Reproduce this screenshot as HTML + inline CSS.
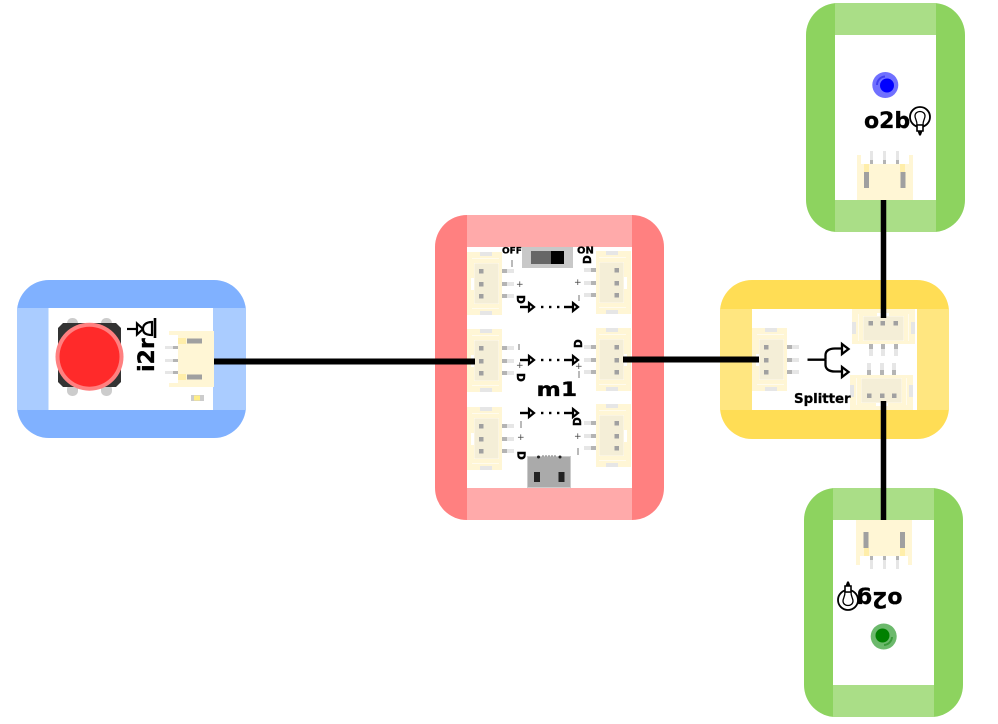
<!DOCTYPE html>
<html><head><meta charset="utf-8"><style>
html,body{margin:0;padding:0;background:#fff;width:998px;height:724px;overflow:hidden}
svg{display:block}
text{font-family:"DejaVu Sans","Liberation Sans",sans-serif;font-weight:bold;fill:#000;stroke:#000;stroke-width:.3px}
.t{font-weight:normal;font-size:9px;fill:#444;stroke:none}
.d{stroke-width:.5px;font-size:10.500px}
</style></head><body>
<svg width="998" height="724" viewBox="0 0 998 724" xmlns="http://www.w3.org/2000/svg">
<defs>
<g id="c">
<rect x="0" y="0" width="35" height="63" fill="#fff6d5"/>
<rect x="5" y="6" width="27" height="1" fill="#fffbee"/>
<rect x="5" y="56" width="27" height="1" fill="#fffbee"/>
<rect x="13" y="0" width="12" height="4" fill="#e6e6e6"/>
<rect x="13" y="59" width="12" height="4" fill="#e6e6e6"/>
<rect x="4" y="26" width="4" height="12" fill="#fff"/>
<rect x="7" y="11" width="25" height="41" fill="#fffbee"/>
<rect x="7.500" y="11.500" width="24" height="40" fill="#f4eed7"/>
<rect x="12" y="17" width="4.500" height="4.500" fill="#a0a0a0"/>
<rect x="12" y="30" width="4.500" height="4.500" fill="#a0a0a0"/>
<rect x="12" y="42" width="4.500" height="4.500" fill="#a0a0a0"/>
<rect x="35" y="17" width="5" height="4" fill="#b4b4b4"/><rect x="40" y="17" width="7" height="4" fill="#e6e6e6"/>
<rect x="35" y="30" width="5" height="4" fill="#b4b4b4"/><rect x="40" y="30" width="7" height="4" fill="#e6e6e6"/>
<rect x="35" y="42" width="5" height="4" fill="#b4b4b4"/><rect x="40" y="42" width="7" height="4" fill="#e6e6e6"/>
</g>
<g id="a" fill="none" stroke="#000">
<path d="M0 0H9" stroke-width="2.400"/>
<path d="M9 -4L14 0L9 4Z" fill="#fff" stroke-width="2.200"/>
</g>
<g id="row">
<use href="#a" x="520"/>
<rect x="541" y="-1.200" width="2.400" height="2.400"/><rect x="549" y="-1.200" width="2.400" height="2.400"/><rect x="557" y="-1.200" width="2.400" height="2.400"/>
<use href="#a" x="564"/>
</g>
</defs>

<!-- i2r module -->
<rect x="17" y="280" width="229" height="158" rx="32" fill="#80b1ff"/>
<rect x="17" y="308" width="229" height="102" fill="#aaccff"/>
<rect x="48.500" y="308" width="164.500" height="102" fill="#fff"/>
<rect x="67" y="318" width="11" height="12" rx="5" fill="#ccc"/><rect x="101" y="318" width="11" height="12" rx="5" fill="#ccc"/>
<rect x="67" y="384" width="11" height="12" rx="5" fill="#ccc"/><rect x="101" y="384" width="11" height="12" rx="5" fill="#ccc"/>
<path d="M63 323H116L121 328V382L116 387H63L58 382V328Z" fill="#333"/>
<circle cx="89.500" cy="356.700" r="34" fill="#ff8080"/>
<circle cx="89.500" cy="356.700" r="30" fill="#ff2a2a"/>
<g transform="translate(154,372) rotate(-90)"><text x="0" y="0" font-size="22">i2r</text></g>
<g fill="none" stroke="#000" stroke-width="2.200">
<path d="M127 329H137"/><path d="M137 323.500L143 329L137 334.500Z" fill="#fff"/>
<path d="M152 322C146 322 143 325 143 329C143 333 146 335 152 335Z" fill="#fff"/>
<path d="M155 318V338" stroke-width="2.600"/>
</g>
<rect x="178" y="331" width="36" height="56" fill="#fff6d5"/>
<rect x="169" y="331" width="9" height="4" fill="#fff6d5"/><rect x="169" y="383" width="9" height="4" fill="#fff6d5"/>
<rect x="178" y="338" width="8" height="6" fill="#ffeeaa"/><rect x="178" y="374" width="8" height="6" fill="#ffeeaa"/>
<rect x="187" y="338.500" width="15" height="5" fill="#a0a0a0"/><rect x="187" y="374.500" width="15" height="5" fill="#a0a0a0"/>
<rect x="165" y="346" width="8" height="3" fill="#e6e6e6"/><rect x="173" y="346" width="5" height="3" fill="#b4b4b4"/>
<rect x="165" y="359" width="8" height="3" fill="#e6e6e6"/><rect x="173" y="359" width="5" height="3" fill="#b4b4b4"/>
<rect x="165" y="371" width="8" height="3" fill="#e6e6e6"/><rect x="173" y="371" width="5" height="3" fill="#b4b4b4"/>
<rect x="191" y="395" width="13" height="6" fill="#ccc"/><rect x="194" y="395.500" width="6" height="5" fill="#ffee88"/>

<!-- m1 module -->
<rect x="435" y="215" width="229" height="305" rx="32" fill="#ff8080"/>
<rect x="467" y="215" width="165" height="305" fill="#ffaaaa"/>
<rect x="467" y="247" width="165" height="241" fill="#fff"/>
<use href="#c" x="467" y="252"/><use href="#c" x="467" y="329"/><use href="#c" x="467" y="407"/>
<use href="#c" transform="translate(631,251) scale(-1,1)"/>
<use href="#c" transform="translate(631,328) scale(-1,1)"/>
<use href="#c" transform="translate(631,404) scale(-1,1)"/>
<rect x="522" y="247" width="51" height="21" fill="#c8c8c8"/>
<rect x="531" y="251" width="20" height="13" fill="#666"/><rect x="551" y="251" width="13" height="13" fill="#000"/>
<text x="502" y="253.700" font-size="9">OFF</text>
<text x="577" y="253.700" font-size="10">ON</text>
<rect x="527" y="456" width="44" height="32" fill="#ccc"/><rect x="528" y="457" width="42" height="30" fill="#aaa"/>
<rect x="534" y="472" width="6" height="10" fill="#222"/><rect x="558.500" y="472" width="6" height="10" fill="#222"/>
<circle cx="538.500" cy="457" r="1.500" fill="#222"/><circle cx="560" cy="457" r="1.500" fill="#222"/>
<path d="M543 455V457M546 455V457M549 455V457M552 455V457M555 455V457" stroke="#777" stroke-width="1"/>
<use href="#row" y="307"/><use href="#row" y="360"/><use href="#row" y="413"/>
<text transform="translate(536.500,396) scale(1.200,1)" font-size="19.500">m1</text>
<path d="M512 260V267M519 344V350M521 421V428M579 295V301M579 371V378M578 448V455" stroke="#666" stroke-width=".9" fill="none"/>
<text class="t" x="516" y="287">+</text>
<text class="t" x="516" y="368">+</text>
<text class="t" x="517" y="440">+</text>
<text class="t" x="574" y="285">+</text>
<text class="t" x="575" y="369">+</text>
<text class="t" x="574" y="439">+</text>
<text class="d" transform="translate(517,295) rotate(90)">D</text>
<text class="d" transform="translate(517,373) rotate(90)">D</text>
<text class="d" transform="translate(517.500,451) rotate(90)">D</text>
<text class="d" transform="translate(591,264) rotate(-90)">D</text>
<text class="d" transform="translate(582,348) rotate(-90)">D</text>
<text class="d" transform="translate(581,426) rotate(-90)">D</text>

<!-- Splitter -->
<rect x="720" y="280" width="229" height="159" rx="32" fill="#ffdd55"/>
<rect x="720" y="309" width="229" height="101" fill="#ffe680"/>
<rect x="752" y="309" width="165" height="101" fill="#fff"/>
<use href="#c" x="752" y="328"/>
<use href="#c" transform="translate(917,309) rotate(90) translate(0,2)"/>
<use href="#c" transform="translate(852,410) rotate(-90) translate(0,-2)"/>
<g fill="none" stroke="#000" stroke-width="2.300">
<path d="M807.500 359.700H825.500"/>
<path d="M825.500 359.700V355C825.500 351 829 348.500 835 348.500H842"/>
<path d="M825.500 359.700V365C825.500 369 829 371.500 835 371.500H842"/>
<path d="M842 344L848.500 349L842 354Z" fill="#fff"/>
<path d="M842 367L848.500 372L842 377Z" fill="#fff"/>
</g>
<text x="794" y="403" font-size="13.330">Splitter</text>

<!-- o2b -->
<g id="top">
<rect x="806" y="3" width="159" height="229" rx="32" fill="#8dd35f"/>
<rect x="835" y="3" width="101" height="229" fill="#aade87"/>
<rect x="835" y="35" width="101" height="165" fill="#fff"/>
<rect x="857" y="164" width="56" height="36" fill="#fff6d5"/>
<rect x="857" y="155" width="4" height="9" fill="#fff6d5"/><rect x="909" y="155" width="4" height="9" fill="#fff6d5"/>
<rect x="864" y="164" width="5" height="8" fill="#ffeeaa"/><rect x="900" y="164" width="5" height="8" fill="#ffeeaa"/>
<rect x="864" y="172" width="5" height="16" fill="#a0a0a0"/><rect x="900.500" y="172" width="5" height="16" fill="#a0a0a0"/>
<rect x="870" y="151" width="3" height="9" fill="#e6e6e6"/><rect x="870" y="160" width="3" height="4" fill="#b4b4b4"/>
<rect x="883" y="151" width="3" height="9" fill="#e6e6e6"/><rect x="883" y="160" width="3" height="4" fill="#b4b4b4"/>
<rect x="896" y="151" width="3" height="9" fill="#e6e6e6"/><rect x="896" y="160" width="3" height="4" fill="#b4b4b4"/>
</g>
<circle cx="885.300" cy="85" r="13" fill="#7070ff"/>
<path d="M877 85A8.500 8.500 0 0 1 885 76.500" fill="none" stroke="#4040f0" stroke-width="2"/>
<circle cx="887" cy="85.500" r="7" fill="#0000ff"/>
<text x="864" y="128" font-size="22">o2b</text>
<g fill="#fff" stroke="#000" stroke-width="1.800">
<circle cx="920" cy="117" r="10"/>
<path d="M915 116C915 110 925 110 925 116C925 119 923 120 923 125H917C917 120 915 119 915 116Z" stroke-width="1.300"/>
<path d="M917 125H923V131H917Z" stroke-width="1.600"/>
<path d="M918 131H922L920.500 135H919.500Z" fill="#000" stroke-width="1"/>
</g>

<!-- o2g -->
<g transform="translate(883.500,602.500) rotate(180) translate(-885.500,-117.500)"><use href="#top"/></g>
<circle cx="883.700" cy="636.500" r="13" fill="#6cb96c"/>
<path d="M892 637A8.500 8.500 0 0 1 884 645" fill="none" stroke="#3a9a3a" stroke-width="2"/>
<circle cx="882.500" cy="635.500" r="7" fill="#008000"/>
<text transform="translate(902.500,592) rotate(180)" font-size="22">o2g</text>
<g fill="#fff" stroke="#000" stroke-width="1.800">
<circle cx="848" cy="600" r="10"/>
<path d="M853 601C853 607 843 607 843 601C843 598 845 597 845 592H851C851 597 853 598 853 601Z" stroke-width="1.300"/>
<path d="M851 592H845V586H851Z" stroke-width="1.600"/>
<path d="M850 586H846L847.500 582H848.500Z" fill="#000" stroke-width="1"/>
</g>

<!-- wires -->
<g stroke="#000" fill="none">
<path d="M214 361.500H475" stroke-width="6"/>
<path d="M623 359.500H759" stroke-width="6"/>
<path d="M883.500 200V318" stroke-width="5.500"/>
<path d="M883.500 401V520" stroke-width="5.500"/>
</g>
</svg>
</body></html>
